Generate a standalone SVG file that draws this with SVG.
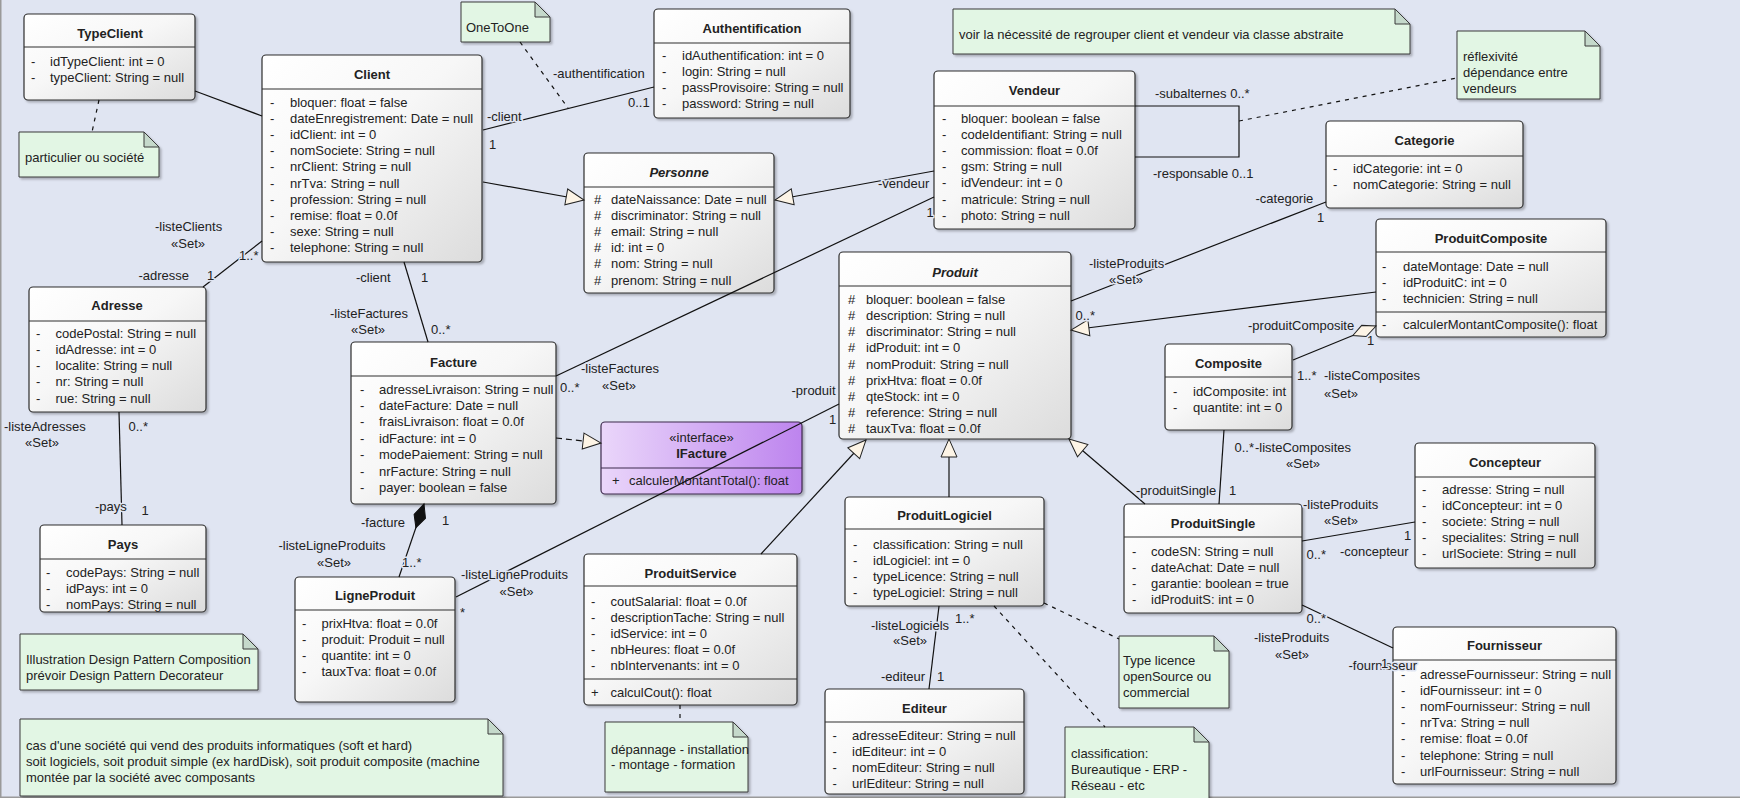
<svg xmlns="http://www.w3.org/2000/svg" width="1740" height="798" viewBox="0 0 1740 798">
<defs>
  <style>
    text { font-family: "Liberation Sans", Arial, sans-serif; font-size: 13px; fill: #222; }
    .t { font-weight: bold; text-anchor: middle; }
    .ti { font-weight: bold; font-style: italic; text-anchor: middle; }
    .c { text-anchor: middle; }
    .box { fill: url(#boxG); stroke: #2e2e2e; stroke-width: 1.2; filter: url(#sh); }
    .ibox { fill: url(#ifG); stroke: #3d2a4d; stroke-width: 1.2; filter: url(#sh); }
    .div { stroke: #2e2e2e; stroke-width: 1.2; }
    .note { fill: #e2f6e4; stroke: #3a3a3a; stroke-width: 1; filter: url(#sh); }
    .fold { fill: #c5d9cb; stroke: #3a3a3a; stroke-width: 1; }
    .ln { stroke: #111; stroke-width: 1.2; fill: none; }
    .dash { stroke-dasharray: 4 5; }
    .rdash { stroke-dasharray: 6 4; }
    .lbl { paint-order: stroke; stroke: #e0e5f2; stroke-width: 3px; stroke-linejoin: round; }
  </style>
  <linearGradient id="boxG" x1="0" y1="0" x2="1" y2="1">
    <stop offset="0" stop-color="#ffffff"/>
    <stop offset="0.45" stop-color="#f7f7f7"/>
    <stop offset="1" stop-color="#dcdcdc"/>
  </linearGradient>
  <linearGradient id="ifG" x1="0" y1="0" x2="1" y2="0">
    <stop offset="0" stop-color="#ead6fa"/>
    <stop offset="1" stop-color="#bd84ee"/>
  </linearGradient>
  <filter id="sh" x="-5%" y="-5%" width="115%" height="115%">
    <feDropShadow dx="2" dy="2" stdDeviation="1.2" flood-color="#000" flood-opacity="0.25"/>
  </filter>
  <marker id="gen" markerUnits="userSpaceOnUse" markerWidth="22" markerHeight="20" refX="18" refY="8" orient="auto" overflow="visible">
    <path d="M0,0 L18,8 L0,16 Z" fill="#fdf4e6" stroke="#222" stroke-width="1"/>
  </marker>
  <marker id="agg" markerUnits="userSpaceOnUse" markerWidth="28" markerHeight="14" refX="25" refY="6" orient="auto" overflow="visible">
    <path d="M0,6 L12,0 L25,6 L12,12 Z" fill="#fdf4e6" stroke="#222" stroke-width="1"/>
  </marker>
  <marker id="comp" markerUnits="userSpaceOnUse" markerWidth="28" markerHeight="14" refX="25" refY="6" orient="auto" overflow="visible">
    <path d="M0,6 L12,0 L25,6 L12,12 Z" fill="#111" stroke="#111" stroke-width="1"/>
  </marker>
</defs>

<!-- canvas -->
<rect x="0" y="0" width="1740" height="798" fill="#e0e5f2"/>
<path d="M0.75,0 V797.25 H1740" fill="none" stroke="#9a9a9a" stroke-width="1.5"/>

<!-- notes -->
<g id="note-particulier">
  <polygon class="note" points="19,132 144,132 159,147 159,177 19,177"/>
  <polygon class="fold" points="144,132 144,147 159,147"/>
  <text x="25" y="161.5">particulier ou société</text>
</g>
<g id="note-onetoone">
  <polygon class="note" points="461,2 535,2 550,17 550,42 461,42"/>
  <polygon class="fold" points="535,2 535,17 550,17"/>
  <text x="466" y="31.5">OneToOne</text>
</g>
<g id="note-abstraite">
  <polygon class="note" points="953,9 1395,9 1410,24 1410,54 953,54"/>
  <polygon class="fold" points="1395,9 1395,24 1410,24"/>
  <text x="959" y="38.5">voir la nécessité de regrouper client et vendeur via classe abstraite</text>
</g>
<g id="note-reflexivite">
  <polygon class="note" points="1457,31 1585,31 1600,46 1600,99 1457,99"/>
  <polygon class="fold" points="1585,31 1585,46 1600,46"/>
  <text x="1463" y="60.5">réflexivité</text>
  <text x="1463" y="76.5">dépendance entre</text>
  <text x="1463" y="92.5">vendeurs</text>
</g>
<g id="note-pattern">
  <polygon class="note" points="20,634 243,634 258,649 258,690 20,690"/>
  <polygon class="fold" points="243,634 243,649 258,649"/>
  <text x="26" y="663.5">Illustration Design Pattern Composition</text>
  <text x="26" y="679.5">prévoir Design Pattern Decorateur</text>
</g>
<g id="note-societe">
  <polygon class="note" points="20,719 488,719 503,734 503,796 20,796"/>
  <polygon class="fold" points="488,719 488,734 503,734"/>
  <text x="26" y="749.5">cas d'une société qui vend des produits informatiques (soft et hard)</text>
  <text x="26" y="765.5">soit logiciels, soit produit simple (ex hardDisk), soit produit composite (machine</text>
  <text x="26" y="781.5">montée par la société avec composants</text>
</g>
<g id="note-service">
  <polygon class="note" points="605,722 733,722 748,737 748,792 605,792"/>
  <polygon class="fold" points="733,722 733,737 748,737"/>
  <text x="611" y="753.5">dépannage - installation</text>
  <text x="611" y="769">- montage - formation</text>
</g>
<g id="note-licence">
  <polygon class="note" points="1119,636 1214,636 1229,651 1229,708 1119,708"/>
  <polygon class="fold" points="1214,636 1214,651 1229,651"/>
  <text x="1123" y="665">Type licence</text>
  <text x="1123" y="681">openSource ou</text>
  <text x="1123" y="697">commercial</text>
</g>
<g id="note-classification">
  <polygon class="note" points="1065,727 1194,727 1209,742 1209,805 1065,805"/>
  <polygon class="fold" points="1194,727 1194,742 1209,742"/>
  <text x="1071" y="757.5">classification:</text>
  <text x="1071" y="773.5">Bureautique - ERP -</text>
  <text x="1071" y="789.5">Réseau - etc</text>
</g>

<!-- classes -->
<g id="typeclient">
  <rect class="box" x="24" y="14" width="171" height="86" rx="4"/>
  <line class="div" x1="24" y1="47" x2="195" y2="47"/>
  <text class="t" x="110" y="37.5">TypeClient</text>
  <text><tspan x="31" y="65.5">-</tspan><tspan x="31" y="81.7">-</tspan></text>
  <text><tspan x="50" y="65.5">idTypeClient: int = 0</tspan><tspan x="50" y="81.7">typeClient: String = null</tspan></text>
</g>

<g id="client">
  <rect class="box" x="262" y="55" width="220" height="207" rx="4"/>
  <line class="div" x1="262" y1="89" x2="482" y2="89"/>
  <text class="t" x="372" y="78.5">Client</text>
  <text><tspan x="270" y="106.5">-</tspan><tspan x="270" y="122.7">-</tspan><tspan x="270" y="138.9">-</tspan><tspan x="270" y="155.1">-</tspan><tspan x="270" y="171.3">-</tspan><tspan x="270" y="187.5">-</tspan><tspan x="270" y="203.7">-</tspan><tspan x="270" y="219.9">-</tspan><tspan x="270" y="236.1">-</tspan><tspan x="270" y="252.3">-</tspan></text>
  <text><tspan x="290" y="106.5">bloquer: float = false</tspan><tspan x="290" y="122.7">dateEnregistrement: Date = null</tspan><tspan x="290" y="138.9">idClient: int = 0</tspan><tspan x="290" y="155.1">nomSociete: String = null</tspan><tspan x="290" y="171.3">nrClient: String = null</tspan><tspan x="290" y="187.5">nrTva: String = null</tspan><tspan x="290" y="203.7">profession: String = null</tspan><tspan x="290" y="219.9">remise: float = 0.0f</tspan><tspan x="290" y="236.1">sexe: String = null</tspan><tspan x="290" y="252.3">telephone: String = null</tspan></text>
</g>

<g id="authentification">
  <rect class="box" x="654" y="9" width="196" height="109" rx="4"/>
  <line class="div" x1="654" y1="43" x2="850" y2="43"/>
  <text class="t" x="752" y="32.5">Authentification</text>
  <text><tspan x="662" y="59.5">-</tspan><tspan x="662" y="75.7">-</tspan><tspan x="662" y="91.9">-</tspan><tspan x="662" y="108.1">-</tspan></text>
  <text><tspan x="682" y="59.5">idAuthentification: int = 0</tspan><tspan x="682" y="75.7">login: String = null</tspan><tspan x="682" y="91.9">passProvisoire: String = null</tspan><tspan x="682" y="108.1">password: String = null</tspan></text>
</g>

<g id="personne">
  <rect class="box" x="584" y="153" width="190" height="140" rx="4"/>
  <line class="div" x1="584" y1="187" x2="774" y2="187"/>
  <text class="ti" x="679" y="176.5">Personne</text>
  <text><tspan x="594" y="203.5">#</tspan><tspan x="594" y="219.7">#</tspan><tspan x="594" y="235.9">#</tspan><tspan x="594" y="252.1">#</tspan><tspan x="594" y="268.3">#</tspan><tspan x="594" y="284.5">#</tspan></text>
  <text><tspan x="611" y="203.5">dateNaissance: Date = null</tspan><tspan x="611" y="219.7">discriminator: String = null</tspan><tspan x="611" y="235.9">email: String = null</tspan><tspan x="611" y="252.1">id: int = 0</tspan><tspan x="611" y="268.3">nom: String = null</tspan><tspan x="611" y="284.5">prenom: String = null</tspan></text>
</g>

<g id="vendeur">
  <rect class="box" x="934" y="71" width="201" height="158" rx="4"/>
  <line class="div" x1="934" y1="106" x2="1135" y2="106"/>
  <text class="t" x="1034.5" y="94.5">Vendeur</text>
  <text><tspan x="942" y="122.5">-</tspan><tspan x="942" y="138.7">-</tspan><tspan x="942" y="154.9">-</tspan><tspan x="942" y="171.1">-</tspan><tspan x="942" y="187.3">-</tspan><tspan x="942" y="203.5">-</tspan><tspan x="942" y="219.7">-</tspan></text>
  <text><tspan x="961" y="122.5">bloquer: boolean = false</tspan><tspan x="961" y="138.7">codeIdentifiant: String = null</tspan><tspan x="961" y="154.9">commission: float = 0.0f</tspan><tspan x="961" y="171.1">gsm: String = null</tspan><tspan x="961" y="187.3">idVendeur: int = 0</tspan><tspan x="961" y="203.5">matricule: String = null</tspan><tspan x="961" y="219.7">photo: String = null</tspan></text>
</g>

<g id="categorie">
  <rect class="box" x="1326" y="121" width="197" height="87" rx="4"/>
  <line class="div" x1="1326" y1="156" x2="1523" y2="156"/>
  <text class="t" x="1424.5" y="144.5">Categorie</text>
  <text><tspan x="1333" y="172.5">-</tspan><tspan x="1333" y="188.7">-</tspan></text>
  <text><tspan x="1353" y="172.5">idCategorie: int = 0</tspan><tspan x="1353" y="188.7">nomCategorie: String = null</tspan></text>
</g>

<g id="produitcomposite">
  <rect class="box" x="1376" y="219" width="230" height="118" rx="4"/>
  <line class="div" x1="1376" y1="252" x2="1606" y2="252"/>
  <line class="div" x1="1376" y1="312" x2="1606" y2="312"/>
  <text class="t" x="1491" y="242.5">ProduitComposite</text>
  <text><tspan x="1382" y="270.5">-</tspan><tspan x="1382" y="286.7">-</tspan><tspan x="1382" y="302.9">-</tspan><tspan x="1382" y="328.5">-</tspan></text>
  <text><tspan x="1403" y="270.5">dateMontage: Date = null</tspan><tspan x="1403" y="286.7">idProduitC: int = 0</tspan><tspan x="1403" y="302.9">technicien: String = null</tspan><tspan x="1403" y="328.5">calculerMontantComposite(): float</tspan></text>
</g>

<g id="produit">
  <rect class="box" x="839" y="252" width="232" height="187" rx="4"/>
  <line class="div" x1="839" y1="286" x2="1071" y2="286"/>
  <text class="ti" x="955" y="276.8">Produit</text>
  <text><tspan x="848" y="303.8">#</tspan><tspan x="848" y="320">#</tspan><tspan x="848" y="336.2">#</tspan><tspan x="848" y="352.4">#</tspan><tspan x="848" y="368.6">#</tspan><tspan x="848" y="384.8">#</tspan><tspan x="848" y="401">#</tspan><tspan x="848" y="417.2">#</tspan><tspan x="848" y="433.4">#</tspan></text>
  <text><tspan x="866" y="303.8">bloquer: boolean = false</tspan><tspan x="866" y="320">description: String = null</tspan><tspan x="866" y="336.2">discriminator: String = null</tspan><tspan x="866" y="352.4">idProduit: int = 0</tspan><tspan x="866" y="368.6">nomProduit: String = null</tspan><tspan x="866" y="384.8">prixHtva: float = 0.0f</tspan><tspan x="866" y="401">qteStock: int = 0</tspan><tspan x="866" y="417.2">reference: String = null</tspan><tspan x="866" y="433.4">tauxTva: float = 0.0f</tspan></text>
</g>

<g id="adresse">
  <rect class="box" x="29" y="287" width="177" height="125" rx="4"/>
  <line class="div" x1="29" y1="321" x2="206" y2="321"/>
  <text class="t" x="117" y="309.8">Adresse</text>
  <text><tspan x="36" y="337.8">-</tspan><tspan x="36" y="354">-</tspan><tspan x="36" y="370.2">-</tspan><tspan x="36" y="386.4">-</tspan><tspan x="36" y="402.6">-</tspan></text>
  <text><tspan x="55.5" y="337.8">codePostal: String = null</tspan><tspan x="55.5" y="354">idAdresse: int = 0</tspan><tspan x="55.5" y="370.2">localite: String = null</tspan><tspan x="55.5" y="386.4">nr: String = null</tspan><tspan x="55.5" y="402.6">rue: String = null</tspan></text>
</g>

<g id="facture">
  <rect class="box" x="351" y="342" width="205" height="162" rx="4"/>
  <line class="div" x1="351" y1="376" x2="556" y2="376"/>
  <text class="t" x="453.5" y="366.5">Facture</text>
  <text><tspan x="360" y="393.5">-</tspan><tspan x="360" y="409.9">-</tspan><tspan x="360" y="426.3">-</tspan><tspan x="360" y="442.7">-</tspan><tspan x="360" y="459.1">-</tspan><tspan x="360" y="475.5">-</tspan><tspan x="360" y="491.9">-</tspan></text>
  <text><tspan x="379" y="393.5">adresseLivraison: String = null</tspan><tspan x="379" y="409.9">dateFacture: Date = null</tspan><tspan x="379" y="426.3">fraisLivraison: float = 0.0f</tspan><tspan x="379" y="442.7">idFacture: int = 0</tspan><tspan x="379" y="459.1">modePaiement: String = null</tspan><tspan x="379" y="475.5">nrFacture: String = null</tspan><tspan x="379" y="491.9">payer: boolean = false</tspan></text>
</g>

<g id="ifacture">
  <rect class="ibox" x="601" y="422" width="201" height="72" rx="4"/>
  <line x1="601" y1="468" x2="802" y2="468" stroke="#3d2a4d" stroke-width="1.2"/>
  <text class="c" x="701.5" y="442.2">«interface»</text>
  <text class="t" x="701.5" y="457.8">IFacture</text>
  <text x="612" y="484.5">+</text>
  <text x="629" y="484.5">calculerMontantTotal(): float</text>
</g>

<g id="composite">
  <rect class="box" x="1165" y="344" width="127" height="86" rx="4"/>
  <line class="div" x1="1165" y1="377" x2="1292" y2="377"/>
  <text class="t" x="1228.5" y="367.5">Composite</text>
  <text><tspan x="1173" y="395.5">-</tspan><tspan x="1173" y="411.7">-</tspan></text>
  <text><tspan x="1193" y="395.5">idComposite: int</tspan><tspan x="1193" y="411.7">quantite: int = 0</tspan></text>
</g>

<g id="concepteur">
  <rect class="box" x="1415" y="443" width="180" height="125" rx="4"/>
  <line class="div" x1="1415" y1="477" x2="1595" y2="477"/>
  <text class="t" x="1505" y="466.5">Concepteur</text>
  <text><tspan x="1422" y="493.5">-</tspan><tspan x="1422" y="509.7">-</tspan><tspan x="1422" y="525.9">-</tspan><tspan x="1422" y="542.1">-</tspan><tspan x="1422" y="558.3">-</tspan></text>
  <text><tspan x="1442" y="493.5">adresse: String = null</tspan><tspan x="1442" y="509.7">idConcepteur: int = 0</tspan><tspan x="1442" y="525.9">societe: String = null</tspan><tspan x="1442" y="542.1">specialites: String = null</tspan><tspan x="1442" y="558.3">urlSociete: String = null</tspan></text>
</g>

<g id="produitsingle">
  <rect class="box" x="1124" y="504" width="178" height="109" rx="4"/>
  <line class="div" x1="1124" y1="537" x2="1302" y2="537"/>
  <text class="t" x="1213" y="527.5">ProduitSingle</text>
  <text><tspan x="1132" y="555.5">-</tspan><tspan x="1132" y="571.7">-</tspan><tspan x="1132" y="587.9">-</tspan><tspan x="1132" y="604.1">-</tspan></text>
  <text><tspan x="1151" y="555.5">codeSN: String = null</tspan><tspan x="1151" y="571.7">dateAchat: Date = null</tspan><tspan x="1151" y="587.9">garantie: boolean = true</tspan><tspan x="1151" y="604.1">idProduitS: int = 0</tspan></text>
</g>

<g id="produitlogiciel">
  <rect class="box" x="845" y="497" width="199" height="109" rx="4"/>
  <line class="div" x1="845" y1="529" x2="1044" y2="529"/>
  <text class="t" x="944.5" y="519.5">ProduitLogiciel</text>
  <text><tspan x="853" y="548.5">-</tspan><tspan x="853" y="564.7">-</tspan><tspan x="853" y="580.9">-</tspan><tspan x="853" y="597.1">-</tspan></text>
  <text><tspan x="873" y="548.5">classification: String = null</tspan><tspan x="873" y="564.7">idLogiciel: int = 0</tspan><tspan x="873" y="580.9">typeLicence: String = null</tspan><tspan x="873" y="597.1">typeLogiciel: String = null</tspan></text>
</g>

<g id="pays">
  <rect class="box" x="40" y="525" width="166" height="87" rx="4"/>
  <line class="div" x1="40" y1="559" x2="206" y2="559"/>
  <text class="t" x="123" y="548.5">Pays</text>
  <text><tspan x="46" y="576.8">-</tspan><tspan x="46" y="593">-</tspan><tspan x="46" y="609.2">-</tspan></text>
  <text><tspan x="66" y="576.8">codePays: String = null</tspan><tspan x="66" y="593">idPays: int = 0</tspan><tspan x="66" y="609.2">nomPays: String = null</tspan></text>
</g>

<g id="ligneproduit">
  <rect class="box" x="295" y="577" width="160" height="125" rx="4"/>
  <line class="div" x1="295" y1="610" x2="455" y2="610"/>
  <text class="t" x="375" y="600.2">LigneProduit</text>
  <text><tspan x="302" y="627.8">-</tspan><tspan x="302" y="644">-</tspan><tspan x="302" y="660.2">-</tspan><tspan x="302" y="676.4">-</tspan></text>
  <text><tspan x="321.5" y="627.8">prixHtva: float = 0.0f</tspan><tspan x="321.5" y="644">produit: Produit = null</tspan><tspan x="321.5" y="660.2">quantite: int = 0</tspan><tspan x="321.5" y="676.4">tauxTva: float = 0.0f</tspan></text>
</g>

<g id="produitservice">
  <rect class="box" x="584" y="554" width="213" height="151" rx="4"/>
  <line class="div" x1="584" y1="586" x2="797" y2="586"/>
  <line class="div" x1="584" y1="679" x2="797" y2="679"/>
  <text class="t" x="690.5" y="577.8">ProduitService</text>
  <text><tspan x="591" y="605.5">-</tspan><tspan x="591" y="621.7">-</tspan><tspan x="591" y="637.9">-</tspan><tspan x="591" y="654.1">-</tspan><tspan x="591" y="670.3">-</tspan><tspan x="591" y="697.2">+</tspan></text>
  <text><tspan x="610.5" y="605.5">coutSalarial: float = 0.0f</tspan><tspan x="610.5" y="621.7">descriptionTache: String = null</tspan><tspan x="610.5" y="637.9">idService: int = 0</tspan><tspan x="610.5" y="654.1">nbHeures: float = 0.0f</tspan><tspan x="610.5" y="670.3">nbIntervenants: int = 0</tspan><tspan x="610.5" y="697.2">calculCout(): float</tspan></text>
</g>

<g id="editeur">
  <rect class="box" x="825" y="689" width="199" height="105" rx="4"/>
  <line class="div" x1="825" y1="722" x2="1024" y2="722"/>
  <text class="t" x="924.5" y="712.5">Editeur</text>
  <text><tspan x="832.5" y="739.5">-</tspan><tspan x="832.5" y="755.7">-</tspan><tspan x="832.5" y="771.9">-</tspan><tspan x="832.5" y="788.1">-</tspan></text>
  <text><tspan x="852" y="739.5">adresseEditeur: String = null</tspan><tspan x="852" y="755.7">idEditeur: int = 0</tspan><tspan x="852" y="771.9">nomEditeur: String = null</tspan><tspan x="852" y="788.1">urlEditeur: String = null</tspan></text>
</g>

<g id="fournisseur">
  <rect class="box" x="1393" y="627" width="223" height="157" rx="4"/>
  <line class="div" x1="1393" y1="660" x2="1616" y2="660"/>
  <text class="t" x="1504.5" y="650.2">Fournisseur</text>
  <text><tspan x="1401" y="678.5">-</tspan><tspan x="1401" y="694.7">-</tspan><tspan x="1401" y="710.9">-</tspan><tspan x="1401" y="727.1">-</tspan><tspan x="1401" y="743.3">-</tspan><tspan x="1401" y="759.5">-</tspan><tspan x="1401" y="775.7">-</tspan></text>
  <text><tspan x="1420" y="678.5">adresseFournisseur: String = null</tspan><tspan x="1420" y="694.7">idFournisseur: int = 0</tspan><tspan x="1420" y="710.9">nomFournisseur: String = null</tspan><tspan x="1420" y="727.1">nrTva: String = null</tspan><tspan x="1420" y="743.3">remise: float = 0.0f</tspan><tspan x="1420" y="759.5">telephone: String = null</tspan><tspan x="1420" y="775.7">urlFournisseur: String = null</tspan></text>
</g>

<!-- connectors -->
<g id="connectors">
  <path class="ln" d="M195,91 L262,116"/>
  <path class="ln dash" d="M99,100 L92,132"/>
  <path class="ln" d="M483,130 L654,87"/>
  <path class="ln dash" d="M520,42 L568,108"/>
  <path class="ln" d="M483,182 L584,200" marker-end="url(#gen)"/>
  <path class="ln" d="M262,241 L203,287"/>
  <path class="ln" d="M404,262 L428,342"/>
  <path class="ln" d="M934,171 L775,200" marker-end="url(#gen)"/>
  <path class="ln" d="M934,197 L556,376"/>
  <path class="ln" d="M1135,106 H1239 V157 H1135"/>
  <path class="ln dash" d="M1239,121 L1457,78"/>
  <path class="ln" d="M1326,202 L1071,301"/>
  <path class="ln" d="M1376,292 L1071,330" marker-end="url(#gen)"/>
  <path class="ln" d="M1293,360 L1376,326" marker-end="url(#agg)"/>
  <path class="ln" d="M1224,430 L1219,504"/>
  <path class="ln" d="M1145,504 L1069,439" marker-end="url(#gen)"/>
  <path class="ln" d="M949,497 L949,439" marker-end="url(#gen)"/>
  <path class="ln" d="M761,554 L866,440" marker-end="url(#gen)"/>
  <path class="ln" d="M456,597 L839,404"/>
  <path class="ln rdash" d="M556,438 L601,443" marker-end="url(#gen)"/>
  <path class="ln" d="M399,577 L424,504" marker-end="url(#comp)"/>
  <path class="ln" d="M119,412 L122,525"/>
  <path class="ln" d="M939,606 L929,689"/>
  <path class="ln" d="M1302,541 L1415,522"/>
  <path class="ln" d="M1302,605 L1393,648"/>
  <path class="ln dash" d="M1044,603 L1119,639"/>
  <path class="ln dash" d="M994,606 L1105,727"/>
  <path class="ln dash" d="M680,705 L680,722"/>
</g>

<!-- association end labels -->
<g id="labels">
  <text class="lbl" x="487" y="120.5">-client</text>
  <text class="lbl" x="489" y="148.5">1</text>
  <text class="lbl" x="553" y="77.5">-authentification</text>
  <text class="lbl" x="628" y="106.5">0..1</text>
  <text class="lbl" x="155" y="230.5">-listeClients</text>
  <text class="lbl" x="171" y="247.5">«Set»</text>
  <text class="lbl" x="239" y="259.5">1..*</text>
  <text class="lbl" x="138.5" y="279.5">-adresse</text>
  <text class="lbl" x="207" y="279.5">1</text>
  <text class="lbl" x="356" y="281.5">-client</text>
  <text class="lbl" x="421" y="281.5">1</text>
  <text class="lbl" x="330" y="317.5">-listeFactures</text>
  <text class="lbl" x="351" y="333.5">«Set»</text>
  <text class="lbl" x="431" y="333.5">0..*</text>
  <text class="lbl" x="4" y="431">-listeAdresses</text>
  <text class="lbl" x="25" y="447">«Set»</text>
  <text class="lbl" x="128.5" y="431">0..*</text>
  <text class="lbl" x="95" y="510.5">-pays</text>
  <text class="lbl" x="141.5" y="514.5">1</text>
  <text class="lbl" x="361" y="526.5">-facture</text>
  <text class="lbl" x="442" y="524.5">1</text>
  <text class="lbl" x="278.5" y="549.5">-listeLigneProduits</text>
  <text class="lbl" x="317" y="567">«Set»</text>
  <text class="lbl" x="402" y="567">1..*</text>
  <text class="lbl" x="461" y="578.5">-listeLigneProduits</text>
  <text class="lbl" x="499.5" y="595.5">«Set»</text>
  <text class="lbl" x="460" y="617">*</text>
  <text class="lbl" x="581" y="372.5">-listeFactures</text>
  <text class="lbl" x="602" y="389.5">«Set»</text>
  <text class="lbl" x="560" y="392">0..*</text>
  <text class="lbl" x="791.5" y="394.5">-produit</text>
  <text class="lbl" x="829" y="423.5">1</text>
  <text class="lbl" x="878" y="187.5">-vendeur</text>
  <text class="lbl" x="926.5" y="216.5">1</text>
  <text class="lbl" x="1155" y="97.5">-subalternes 0..*</text>
  <text class="lbl" x="1153" y="177.5">-responsable 0..1</text>
  <text class="lbl" x="1255.5" y="202.5">-categorie</text>
  <text class="lbl" x="1317" y="221.5">1</text>
  <text class="lbl" x="1089" y="267.5">-listeProduits</text>
  <text class="lbl" x="1109" y="283.5">«Set»</text>
  <text class="lbl" x="1075.5" y="319.5">0..*</text>
  <text class="lbl" x="1248" y="329.5">-produitComposite</text>
  <text class="lbl" x="1367" y="344.5">1</text>
  <text class="lbl" x="1297" y="379.5">1..*</text>
  <text class="lbl" x="1324" y="379.5">-listeComposites</text>
  <text class="lbl" x="1324" y="397.5">«Set»</text>
  <text class="lbl" x="1234.5" y="451.5">0..*</text>
  <text class="lbl" x="1255" y="451.5">-listeComposites</text>
  <text class="lbl" x="1286" y="467.5">«Set»</text>
  <text class="lbl" x="1136" y="494.5">-produitSingle</text>
  <text class="lbl" x="1229" y="494.5">1</text>
  <text class="lbl" x="1303" y="508.5">-listeProduits</text>
  <text class="lbl" x="1324" y="524.5">«Set»</text>
  <text class="lbl" x="1404" y="539.5">1</text>
  <text class="lbl" x="1306.5" y="558.5">0..*</text>
  <text class="lbl" x="1340" y="555.5">-concepteur</text>
  <text class="lbl" x="1306.5" y="622.5">0..*</text>
  <text class="lbl" x="1254" y="641.5">-listeProduits</text>
  <text class="lbl" x="1275" y="658.5">«Set»</text>
  <text class="lbl" x="1348.5" y="670">-fournisseur</text>
  <text class="lbl" x="1381" y="668">1</text>
  <text class="lbl" x="871" y="629.5">-listeLogiciels</text>
  <text class="lbl" x="955" y="623">1..*</text>
  <text class="lbl" x="893" y="645">«Set»</text>
  <text class="lbl" x="881" y="681">-editeur</text>
  <text class="lbl" x="937" y="681">1</text>
</g>
</svg>
